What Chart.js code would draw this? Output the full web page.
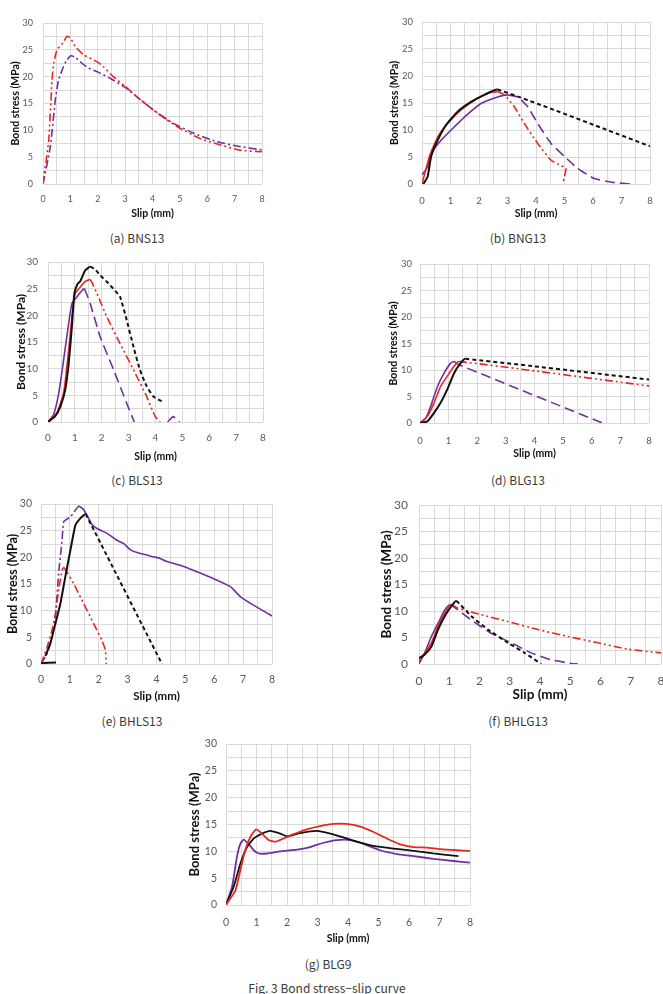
<!DOCTYPE html>
<html>
<head>
<meta charset="utf-8">
<script src="https://cdn.jsdelivr.net/npm/chart.js@4.4.1/dist/chart.umd.min.js"></script>
<style>
body { margin: 0; background: #fff; }
#page { position: relative; width: 663px; height: 994px; overflow: hidden; background: #fff; }
canvas { position: absolute; }
.cap { position: absolute; transform: translate(-50%, -50%); font-family: "Noto Sans CJK KR", sans-serif; font-size: 12px; color: #3a3a3a; white-space: nowrap; }
</style>
</head>
<body>
<div id="page"></div>
<script>
// slip (mm), bond stress (MPa) pairs

// (a) BNS13
const bnsRed = [[0,0],[0.21,8.2],[0.33,19.4],[0.39,22.5],[0.51,25],[0.75,26.4],[0.87,27.5],[1.0,27.2],[1.18,25.6],[1.48,24.1],[1.97,22.8],[2.2,21.9],[2.57,20],[3.0,18.2],[3.42,16.3],[4.03,13.8],[4.51,12.0],[5.0,10.4],[5.73,8.5],[6.46,7.3],[7.19,6.3],[8,6.0]];
const bnsPurple = [[0,0],[0.27,7],[0.45,15.7],[0.57,19.4],[0.75,21.9],[0.87,23.1],[1.02,23.9],[1.18,23.6],[1.42,22.5],[1.66,21.6],[2.03,20.8],[2.45,19.7],[3.0,18.0],[3.42,16.3],[4.03,13.8],[4.76,11.3],[5.49,9.5],[6.33,7.9],[7.18,7.0],[8,6.35]];

// (b) BNG13
const bngBlack = [[0.05,0],[0.2,1.4],[0.32,5.1],[0.55,8.1],[0.84,10.9],[1.25,13.4],[1.72,15.2],[2.19,16.5],[2.65,17.5],[8,7.0]];
const bngRed = [[0,0],[0.26,5.1],[0.55,8.7],[0.9,11.2],[1.37,13.7],[1.84,15.5],[2.3,16.8],[2.65,17.1],[2.89,16.5],[3.24,14.3],[3.59,11.2],[4.06,7.5],[4.53,4.4],[4.88,3.4],[5.05,2.9],[5.0,1.4],[4.94,0]];
const bngPurple = [[0,1.7],[0.2,3.2],[0.32,5.7],[0.67,8.1],[1.02,10],[1.49,12.4],[2.07,14.9],[2.65,16.1],[3.0,16.5],[3.36,16.1],[3.71,14.3],[4.06,11.2],[4.53,7.5],[5.0,5.1],[5.46,2.9],[6.05,1.0],[6.75,0.25],[7.33,0]];

// (c) BLS13
const blsBlack = [[0,0],[0.27,1.1],[0.46,2.9],[0.64,6.0],[0.77,11],[0.89,17.9],[0.98,24.1],[1.1,25.9],[1.2,26.4],[1.38,28.4],[1.57,29.1],[1.76,28.6],[1.94,27.5],[2.19,26.3],[2.5,24.6],[2.68,23.5],[2.93,19.1],[3.18,14.1],[3.42,9.8],[3.67,6.7],[3.92,4.8],[4.23,3.9]];
const blsRed = [[0,0],[0.33,1.7],[0.58,5.4],[0.77,13.5],[0.89,19.7],[1.01,24.1],[1.2,25.3],[1.38,26.3],[1.57,26.7],[1.82,24.1],[2.19,19.7],[2.68,14.7],[3.18,9.8],[3.67,4.8],[3.98,1.1],[4.17,0]];
const blsPurple = [[0,0],[0.21,1.4],[0.4,5.4],[0.58,11.6],[0.77,18.5],[0.89,22.2],[1.08,23.5],[1.26,24.6],[1.35,25.0],[1.57,22.2],[1.94,16],[2.44,9.8],[2.93,3.5],[3.21,0],[3.8,null],[4.45,0],[4.66,1.0],[4.9,0]];

// (d) BLG13
const blgBlack = [[0,0],[0.26,0.3],[0.49,1.9],[0.72,3.8],[0.95,6.3],[1.19,9.4],[1.42,11.3],[1.59,12.1],[8,8.2]];
const blgRed = [[0,0],[0.26,1.3],[0.49,3.8],[0.72,6.9],[0.95,8.8],[1.19,10.7],[1.36,11.6],[8,7.0]];
const blgPurple = [[0,0],[0.2,0.9],[0.37,3.1],[0.61,6.9],[0.84,9.4],[1.07,11.3],[1.19,11.6],[1.36,11.0],[6.37,0]];

// (e) BHLS13
const bhlsBlack = [[0,0.15],[0.52,0.3],[0.52,null],[0.15,1.5],[0.32,3.8],[0.5,7.6],[0.67,11.3],[0.84,16.3],[1.02,21.4],[1.19,26.0],[1.36,27.3],[1.54,28.1],[1.71,26.4],[4.19,0]];
const bhlsRed = [[0,0],[0.21,3.2],[0.38,6.3],[0.5,9.5],[0.61,13.8],[0.73,17.6],[0.79,18.1],[1.13,15.1],[1.48,11.3],[1.82,7.6],[2.11,4.4],[2.23,2.6],[2.26,0]];
const bhlsPurple = [[0,0],[0.21,1.9],[0.38,5.1],[0.5,8.8],[0.61,17],[0.73,23.2],[0.79,26.7],[1.02,27.6],[1.31,29.6],[1.48,28.9],[1.65,27.3],[1.73,26.4],[1.94,25.4],[2.29,24.5],[2.63,23.2],[2.86,22.6],[3.1,21.4],[3.44,20.7],[3.9,20.1],[4.13,19.8],[4.36,19.2],[4.82,18.5],[5.4,17.3],[5.98,16.0],[6.56,14.5],[6.91,12.6],[7.37,11.0],[8,9.0]];

// (f) BHLG13
const bhlgBlack = [[0,1.1],[0.19,1.8],[0.41,3.3],[0.63,6.5],[0.85,9.0],[1.07,10.9],[1.23,11.9],[1.73,9.0],[2.28,6.5],[2.94,4.0],[3.49,2.1],[4.04,0]];
const bhlgRed = [[0,0.5],[0.19,2.1],[0.41,4.0],[0.63,7.1],[0.85,9.6],[1.07,11.2],[1.29,10.5],[2.06,9.3],[2.94,8.0],[3.93,6.5],[4.92,5.2],[5.91,4.0],[6.9,2.8],[8,2.1]];
const bhlgPurple = [[0,0],[0.19,2.1],[0.41,5.2],[0.63,7.7],[0.85,10.2],[1.01,11.2],[1.12,10.9],[1.73,8.3],[2.39,5.8],[3.05,4.0],[3.71,2.1],[4.37,0.8],[5.03,0.1],[5.25,0]];

// (g) BLG9
const blg9Red = [[0,0],[0.14,1.2],[0.31,2.7],[0.47,6.5],[0.63,10.2],[0.8,12.7],[0.99,14.1],[1.18,13.3],[1.4,12.1],[1.62,11.8],[1.89,12.4],[2.22,13.2],[2.65,14.1],[3.09,14.7],[3.53,15.1],[3.96,15.1],[4.4,14.6],[4.84,13.6],[5.27,12.4],[5.71,11.3],[6.15,10.8],[6.58,10.7],[7.02,10.4],[7.57,10.2],[8,10.1]];
const blg9Black = [[0,0],[0.25,3.4],[0.47,7.7],[0.69,10.8],[0.91,12.4],[1.18,13.3],[1.45,13.8],[1.78,13.3],[2.0,12.8],[2.43,13.4],[2.98,13.8],[3.42,13.3],[3.85,12.6],[4.29,11.8],[4.84,11.0],[5.49,10.5],[6.15,10.1],[6.8,9.6],[7.62,9.1]];
const blg9Purple = [[0,0],[0.2,3.4],[0.36,9.0],[0.47,11.4],[0.58,12.2],[0.74,11.4],[0.91,10.2],[1.07,9.6],[1.34,9.6],[1.78,10.0],[2.33,10.3],[2.76,10.8],[3.2,11.6],[3.64,12.1],[4.07,12.1],[4.51,11.4],[5.05,10.2],[5.6,9.5],[6.15,9.1],[6.8,8.6],[7.45,8.2],[8,7.9]];

const xTicks = [0, 1, 2, 3, 4, 5, 6, 7, 8];
const yTicks = [0, 5, 10, 15, 20, 25, 30];

const RED = '#e8261f';
const PURPLE = '#7030a0';
const BLACK = '#111111';
const SOLID = [];
const SHORT = [4, 3];
const LONG = [10, 5];
const DASHDOT = [8, 3, 2, 3];
const DASHDOT2 = [8, 3, 2, 3, 2, 3];
const FONT = 'Lato, "Open Sans", sans-serif';

const page = document.getElementById('page');

function peakX(pts) {
    let best = pts[0];
    pts.forEach(p => { if (p[1] !== null && p[1] > best[1]) best = p; });
    return best[0];
}

function drawPanel(p) {
    const lhY = p.yTitleSize * 1.2, lhX = p.xTitleSize * 1.2;
    const left = Math.round(p.yTitleX - lhY / 2 - 2);
    const yw = p.plot.l - left;
    const bottom = Math.round(p.xTitleCY + lhX / 2 + 2);
    const xh = bottom - p.plot.b;
    const top = p.plot.t - 8;
    const right = Math.min(663, p.plot.r + 8);
    const w = right - left, h = bottom - top;

    const cv = document.createElement('canvas');
    cv.width = w; cv.height = h;
    cv.style.left = left + 'px'; cv.style.top = top + 'px';
    cv.style.width = w + 'px'; cv.style.height = h + 'px';
    page.appendChild(cv);

    const datasets = p.series.map(s => {
        const px = peakX(s.data);
        return {
            data: s.data.map(d => ({x: d[0], y: d[1]})),
            borderColor: s.color,
            borderWidth: s.width || 1.6,
            pointRadius: 0,
            tension: 0.15,
            fill: false,
            spanGaps: false,
            segment: {
                borderDash: ctx => ctx.p0.parsed.x >= px - 1e-9 ? s.post : s.pre
            }
        };
    });

    const tickFont = {family: FONT, size: p.tickSize};
    new Chart(cv, {
        type: 'line',
        data: {datasets: datasets},
        options: {
            responsive: false,
            animation: false,
            layout: {padding: {top: 8, right: right - p.plot.r, left: 0, bottom: 0}},
            plugins: {legend: {display: false}, tooltip: {enabled: false}},
            scales: {
                x: {
                    type: 'linear', min: 0, max: 8,
                    afterFit: s => { s.height = xh; s.paddingLeft = 0; s.paddingRight = 0; },
                    grid: {color: '#d9d9d9', drawTicks: false, lineWidth: 1},
                    border: {display: false},
                    ticks: {
                        stepSize: 0.5, autoSkip: false, maxRotation: 0,
                        padding: p.xTickCY - p.plot.b - 0.6 * p.tickSize,
                        color: '#595959', font: tickFont,
                        callback: v => xTicks.includes(v) ? v : ''
                    },
                    title: {display: true, text: 'Slip (mm)', color: '#111',
                        font: {family: FONT, size: p.xTitleSize, weight: 'bold'},
                        padding: {top: 0, bottom: 2}}
                },
                y: {
                    min: 0, max: 30,
                    afterFit: s => { s.width = yw; s.paddingTop = 0; s.paddingBottom = 0; },
                    grid: {color: '#d9d9d9', drawTicks: false, lineWidth: 1},
                    border: {display: false},
                    ticks: {
                        stepSize: 2.5, autoSkip: false,
                        padding: p.plot.l - p.yTickRight,
                        color: '#595959', font: tickFont,
                        callback: v => yTicks.includes(v) ? v : ''
                    },
                    title: {display: true, text: 'Bond stress (MPa)', color: '#111',
                        font: {family: FONT, size: p.yTitleSize, weight: 'bold'},
                        padding: {top: 2, bottom: 0}}
                }
            }
        }
    });

    const cap = document.createElement('div');
    cap.className = 'cap';
    cap.textContent = p.caption;
    cap.style.left = p.capX + 'px';
    cap.style.top = p.capY + 'px';
    page.appendChild(cap);
}

const panels = [
    {caption: '(a)  BNS13', capX: 137, capY: 237,
     plot: {l: 43, t: 23, r: 262, b: 184}, yTitleX: 15, yTickRight: 33, xTickCY: 199, xTitleCY: 214,
     tickSize: 9, yTitleSize: 10.5, xTitleSize: 10.5,
     series: [
        {data: bnsRed, color: RED, pre: DASHDOT2, post: DASHDOT2},
        {data: bnsPurple, color: PURPLE, pre: DASHDOT, post: DASHDOT}
     ]},
    {caption: '(b)  BNG13', capX: 518, capY: 237,
     plot: {l: 422, t: 22, r: 650, b: 184}, yTitleX: 394, yTickRight: 413, xTickCY: 201, xTitleCY: 214,
     tickSize: 9.5, yTitleSize: 10.5, xTitleSize: 10.5,
     series: [
        {data: bngBlack, color: BLACK, pre: SOLID, post: SHORT, width: 2},
        {data: bngRed, color: RED, pre: SOLID, post: DASHDOT2},
        {data: bngPurple, color: PURPLE, pre: SOLID, post: LONG}
     ]},
    {caption: '(c)  BLS13', capX: 137, capY: 479,
     plot: {l: 48, t: 262, r: 263, b: 422}, yTitleX: 21, yTickRight: 38, xTickCY: 438, xTitleCY: 457,
     tickSize: 10, yTitleSize: 12, xTitleSize: 10.5,
     series: [
        {data: blsBlack, color: BLACK, pre: SOLID, post: SHORT, width: 2},
        {data: blsRed, color: RED, pre: SOLID, post: DASHDOT2},
        {data: blsPurple, color: PURPLE, pre: SOLID, post: LONG}
     ]},
    {caption: '(d)  BLG13', capX: 518, capY: 479,
     plot: {l: 420, t: 264, r: 649, b: 423}, yTitleX: 393, yTickRight: 412, xTickCY: 441, xTitleCY: 454,
     tickSize: 9.5, yTitleSize: 10.5, xTitleSize: 10.5,
     series: [
        {data: blgBlack, color: BLACK, pre: SOLID, post: SHORT, width: 2},
        {data: blgRed, color: RED, pre: SOLID, post: DASHDOT2},
        {data: blgPurple, color: PURPLE, pre: SOLID, post: LONG}
     ]},
    {caption: '(e)  BHLS13', capX: 132, capY: 720,
     plot: {l: 41, t: 504, r: 272, b: 664}, yTitleX: 12, yTickRight: 32, xTickCY: 680, xTitleCY: 696,
     tickSize: 10.5, yTitleSize: 12.5, xTitleSize: 11.5,
     series: [
        {data: bhlsBlack, color: BLACK, pre: SOLID, post: SHORT, width: 2},
        {data: bhlsRed, color: RED, pre: DASHDOT, post: DASHDOT2},
        {data: bhlsPurple, color: PURPLE, pre: DASHDOT, post: SOLID}
     ]},
    {caption: '(f)  BHLG13', capX: 518, capY: 720,
     plot: {l: 419, t: 505, r: 661, b: 664}, yTitleX: 387, yTickRight: 408, xTickCY: 681, xTitleCY: 695,
     tickSize: 12, yTitleSize: 13.5, xTitleSize: 13.5,
     series: [
        {data: bhlgBlack, color: BLACK, pre: SOLID, post: SHORT, width: 2},
        {data: bhlgRed, color: RED, pre: SOLID, post: DASHDOT2},
        {data: bhlgPurple, color: PURPLE, pre: SOLID, post: LONG}
     ]},
    {caption: '(g)  BLG9', capX: 328, capY: 963,
     plot: {l: 226, t: 744, r: 470, b: 905}, yTitleX: 195, yTickRight: 217, xTickCY: 923, xTitleCY: 939,
     tickSize: 10.5, yTitleSize: 13, xTitleSize: 10.5,
     series: [
        {data: blg9Red, color: RED, pre: SOLID, post: SOLID, width: 1.8},
        {data: blg9Black, color: BLACK, pre: SOLID, post: SOLID, width: 1.8},
        {data: blg9Purple, color: PURPLE, pre: SOLID, post: SOLID, width: 1.8}
     ]}
];

panels.forEach(drawPanel);

const fig = document.createElement('div');
fig.className = 'cap';
fig.textContent = 'Fig. 3 Bond stress\u2212slip curve';
fig.style.left = '327px';
fig.style.top = '987px';
page.appendChild(fig);
</script>
</body>
</html>
